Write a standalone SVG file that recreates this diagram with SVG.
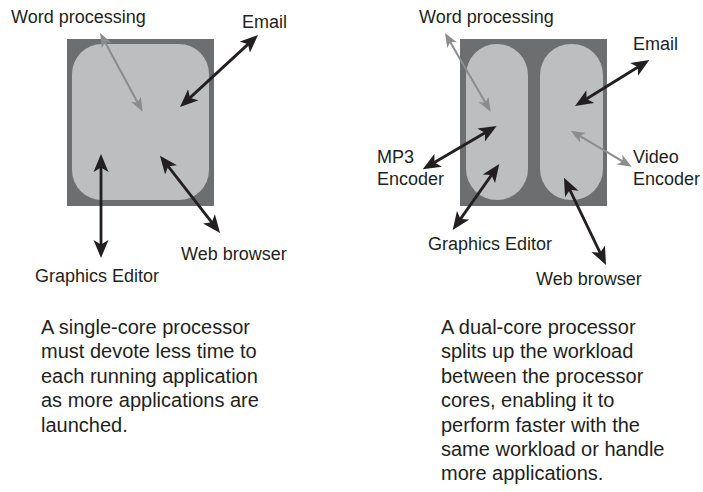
<svg xmlns="http://www.w3.org/2000/svg" width="703" height="492" viewBox="0 0 703 492">
  <style>
    .die { fill: #6d6e70; }
    .core { fill: #bcbec0; }
    .lbl { font-family: "Liberation Sans", Arial, sans-serif; font-size: 18px; fill: #231f20; }
    .body { font-family: "Liberation Sans", Arial, sans-serif; font-size: 20px; fill: #231f20; }
    .blk { stroke: #231f20; stroke-width: 2.8; fill: none; marker-start: url(#headK); marker-end: url(#headK); }
    .gry { stroke: #8c8c8c; stroke-width: 2; fill: none; marker-start: url(#headG); marker-end: url(#headG); }
  </style>
  <defs>
    <marker id="headK" viewBox="0 -8 19 16" markerWidth="19" markerHeight="16" refX="9" refY="0" orient="auto-start-reverse" markerUnits="userSpaceOnUse">
      <path d="M0,-7.5 L18,0 L0,7.5 L4.5,0 Z" fill="#231f20"/>
    </marker>
    <marker id="headG" viewBox="0 -6 15 12" markerWidth="15" markerHeight="12" refX="8" refY="0" orient="auto-start-reverse" markerUnits="userSpaceOnUse">
      <path d="M0,-5.5 L14,0 L0,5.5 L3.5,0 Z" fill="#8c8c8c"/>
    </marker>
  </defs>

  <!-- single-core processor -->
  <g id="single-core">
    <rect class="die" x="67" y="39" width="147" height="167"/>
    <rect class="core" x="72" y="44" width="137" height="156" rx="30" ry="30"/>
  </g>

  <!-- dual-core processor -->
  <g id="dual-core">
    <rect class="die" x="460" y="39" width="147" height="167"/>
    <rect id="core-1" class="core" x="466" y="44" width="62" height="156" rx="31" ry="31"/>
    <rect id="core-2" class="core" x="540" y="44" width="63" height="156" rx="31" ry="31"/>
  </g>

  <!-- application connectors -->
  <g id="connectors">
    <line class="gry" x1="102.9" y1="38.3" x2="139.8" y2="106.4"/>
    <line class="blk" x1="251.4" y1="41.1" x2="186.6" y2="100.9"/>
    <line class="blk" x1="101" y1="163" x2="101" y2="249"/>
    <line class="blk" x1="165.5" y1="162.8" x2="214.5" y2="225.9"/>

    <line class="gry" x1="448" y1="38.2" x2="487.7" y2="106.5"/>
    <line class="blk" x1="641.7" y1="64.7" x2="582.7" y2="101.3"/>
    <line class="blk" x1="488.9" y1="130.5" x2="430.5" y2="164.8"/>
    <line class="blk" x1="494.1" y1="171.4" x2="457.9" y2="222.6"/>
    <line class="gry" x1="575.9" y1="133.7" x2="626.5" y2="163.7"/>
    <line class="blk" x1="567.9" y1="185.8" x2="602.1" y2="256.9"/>
  </g>

  <!-- application labels, single core -->
  <g id="labels-single">
    <text class="lbl" x="11" y="23">Word processing</text>
    <text class="lbl" x="242" y="28">Email</text>
    <text class="lbl" x="181" y="260">Web browser</text>
    <text class="lbl" x="35" y="282">Graphics Editor</text>
  </g>

  <!-- application labels, dual core -->
  <g id="labels-dual">
    <text class="lbl" x="419" y="23">Word processing</text>
    <text class="lbl" x="633" y="50">Email</text>
    <text class="lbl" x="377" y="163">MP3</text>
    <text class="lbl" x="377" y="185">Encoder</text>
    <text class="lbl" x="633" y="163">Video</text>
    <text class="lbl" x="633" y="185">Encoder</text>
    <text class="lbl" x="428" y="250">Graphics Editor</text>
    <text class="lbl" x="536" y="285">Web browser</text>
  </g>

  <!-- captions -->
  <g id="caption-single">
    <text class="body" x="41" y="334">A single-core processor</text>
    <text class="body" x="41" y="358.4">must devote less time to</text>
    <text class="body" x="41" y="382.8">each running application</text>
    <text class="body" x="41" y="407.2">as more applications are</text>
    <text class="body" x="41" y="431.6">launched.</text>
  </g>
  <g id="caption-dual">
    <text class="body" x="441" y="334">A dual-core processor</text>
    <text class="body" x="441" y="358.4">splits up the workload</text>
    <text class="body" x="441" y="382.8">between the processor</text>
    <text class="body" x="441" y="407.2">cores, enabling it to</text>
    <text class="body" x="441" y="431.6">perform faster with the</text>
    <text class="body" x="441" y="456">same workload or handle</text>
    <text class="body" x="441" y="480.4">more applications.</text>
  </g>
</svg>
